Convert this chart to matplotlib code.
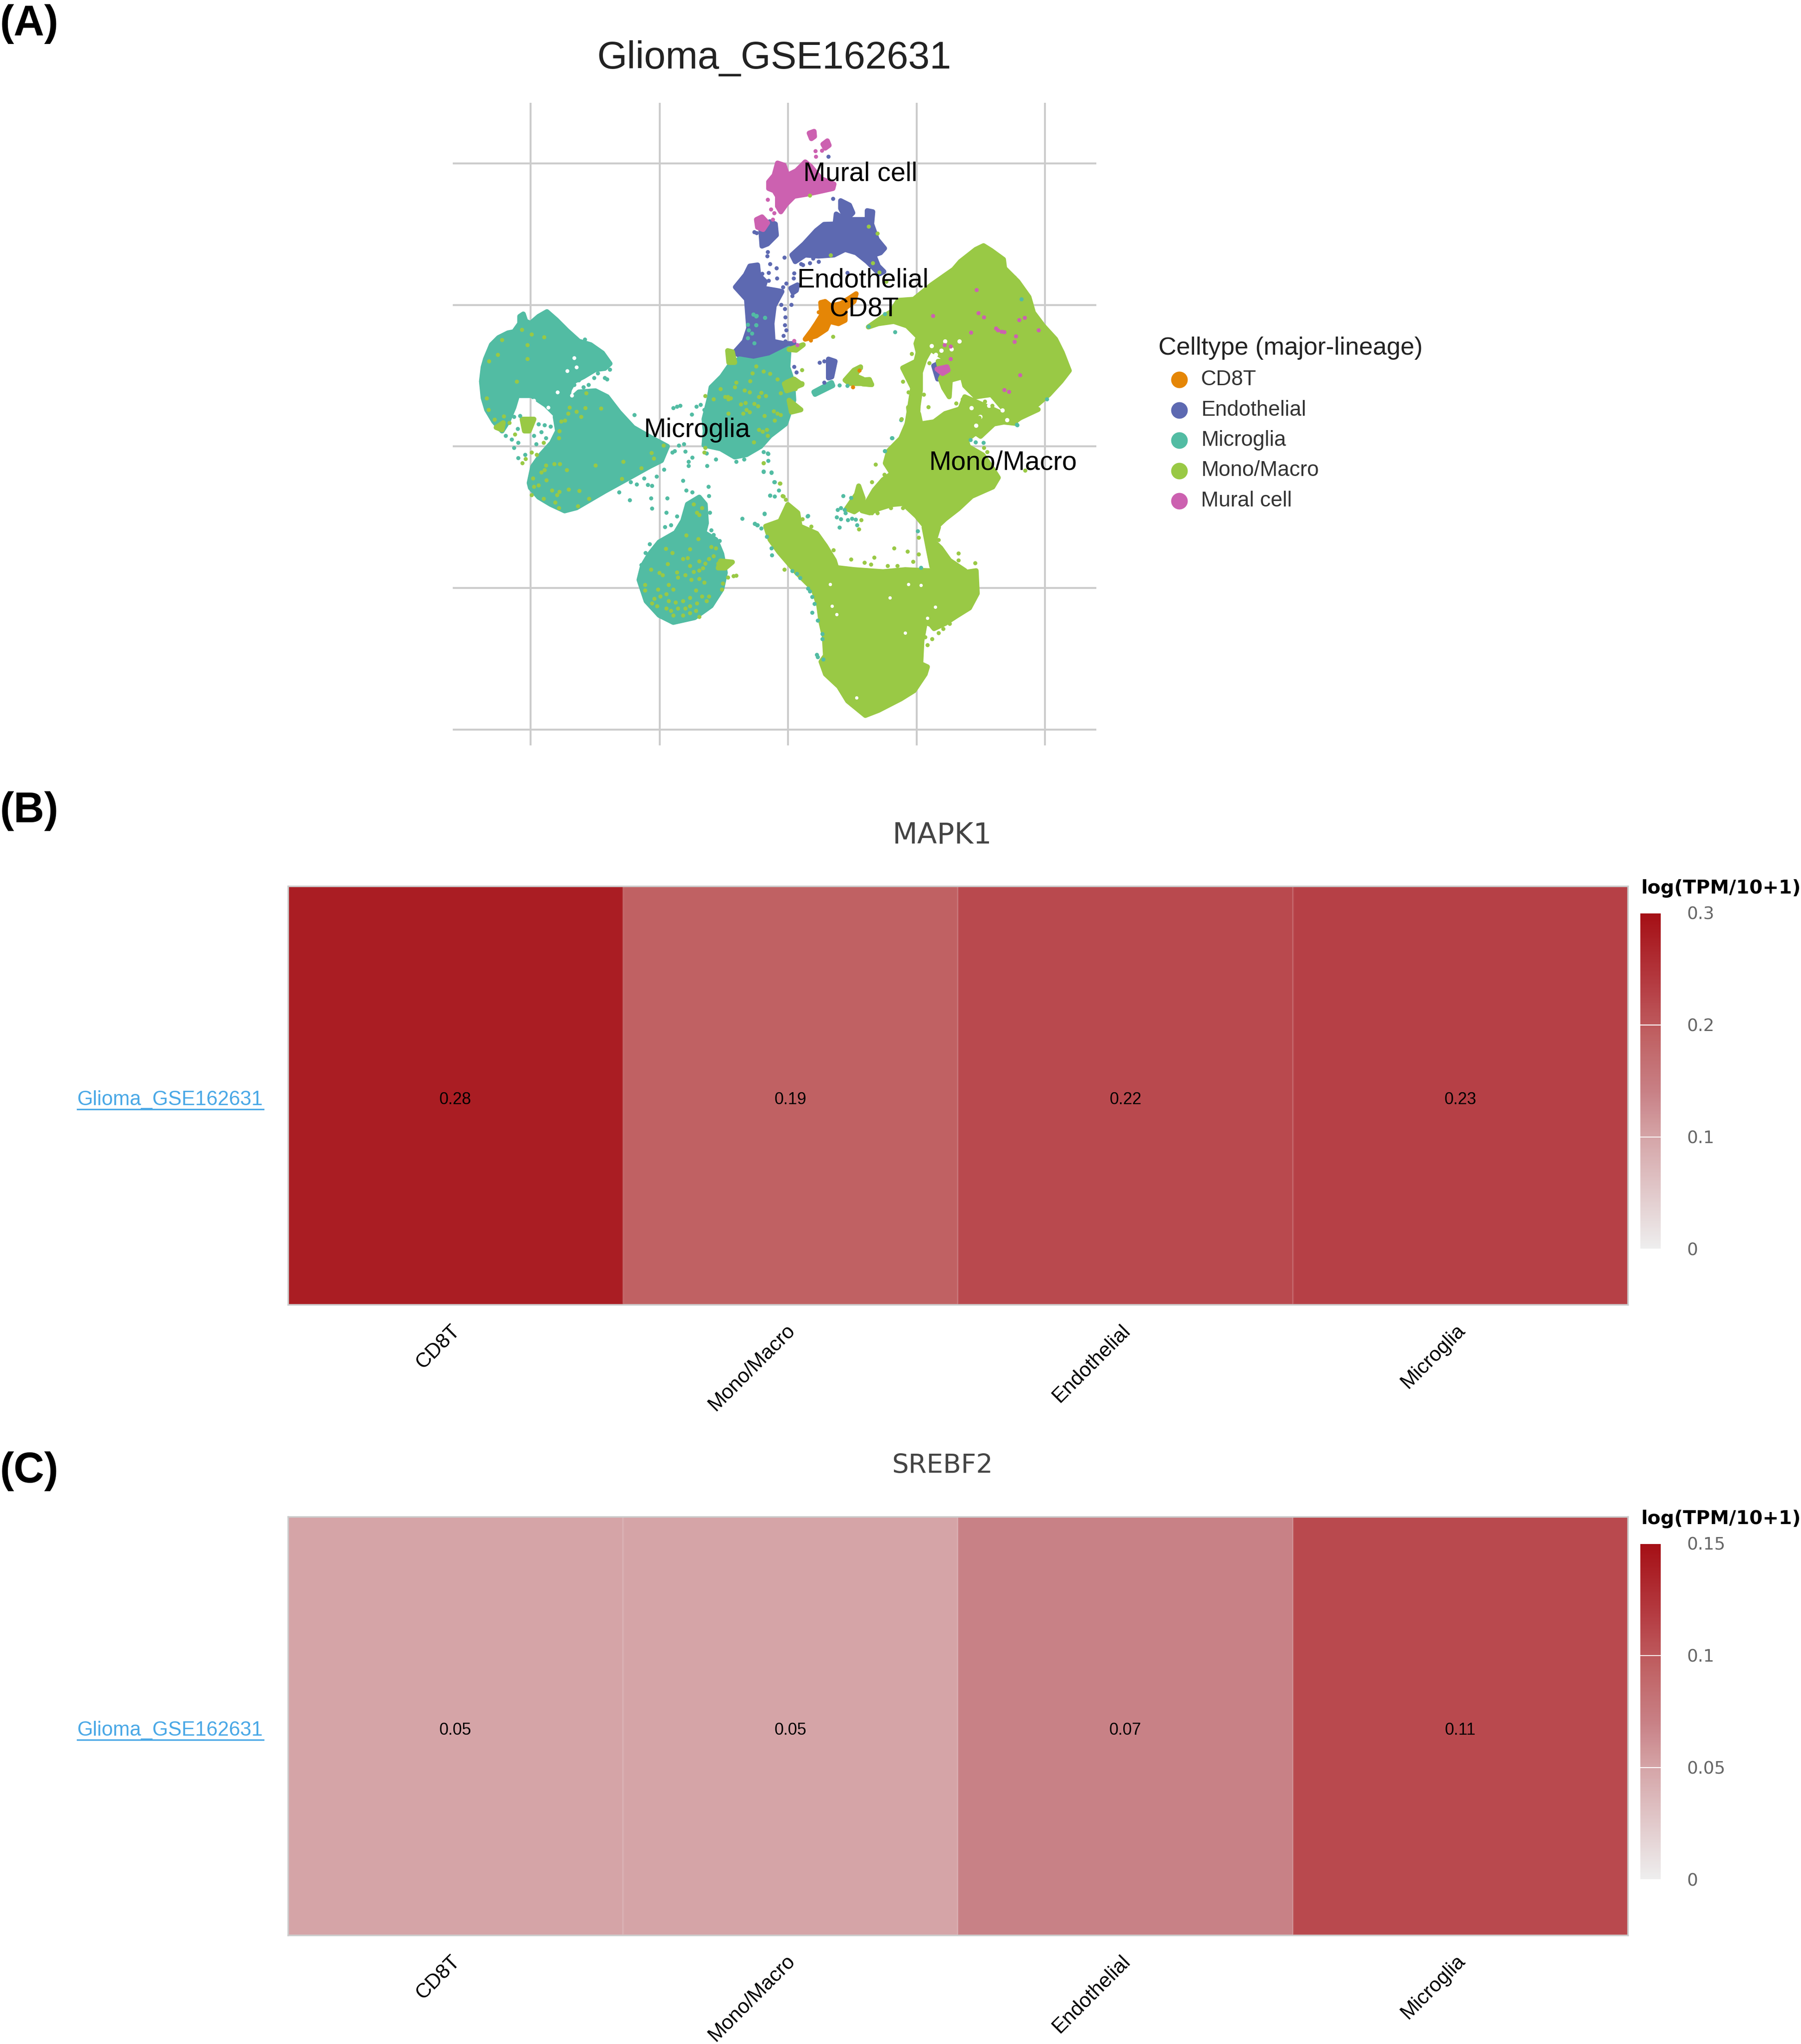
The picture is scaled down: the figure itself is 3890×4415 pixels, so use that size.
import matplotlib
matplotlib.use('Agg')
import matplotlib.pyplot as plt
from matplotlib.colors import LinearSegmentedColormap
from matplotlib.patches import Polygon

plt.rcParams['font.family'] = ['Liberation Sans', 'DejaVu Sans']

W, H = 3890, 4415

celltypes = ['CD8T', 'Endothelial', 'Microglia', 'Mono/Macro', 'Mural cell']
palette = ['#E58606', '#5D69B1', '#52BCA3', '#99C945', '#CC61B0']

grid_x = [212, 513, 813, 1113, 1413]
grid_y = [172, 514, 856, 1198, 1541]

# Everything below was read off three enlarged views of the embedding, so each
# list is in the units of its own view; view_* bring them onto the common axes.
view_left = (54, 0.5517, 493, 0.5714)
view_top = (703, 0.5174, 44.8, 0.5358)
view_bottom = (724.5, 0.5174, 761.6, 0.5)

# outlines of the dense clouds
microglia_shapes = [
    [(78, 360), (85, 300), (95, 265), (120, 205), (150, 175), (190, 155), (215, 150), (240, 115), (240, 85), (255, 75),
     (265, 105), (285, 115), (320, 85), (355, 65), (395, 100), (440, 145), (490, 190), (540, 205), (590, 240),
     (622, 285), (600, 305), (560, 310), (510, 340), (470, 360), (450, 395), (400, 410), (360, 430), (310, 415),
     (250, 385), (230, 420), (215, 470), (190, 530), (165, 570), (130, 530), (100, 480), (85, 430)],
    [(250, 385), (310, 415), (400, 410), (450, 395), (440, 450), (395, 505), (350, 460), (290, 420), (240, 420)],
    [(280, 790), (295, 720), (330, 670), (375, 620), (400, 570), (390, 510), (440, 450), (490, 405), (560, 400),
     (610, 425), (660, 490), (720, 555), (790, 595), (865, 635), (840, 695), (790, 720), (700, 770), (600, 825),
     (540, 860), (480, 895), (430, 908), (370, 880), (320, 850), (285, 810)],
    [(1020, 520), (1040, 440), (1050, 385), (1095, 340), (1130, 290), (1170, 265), (1230, 275), (1300, 260),
     (1380, 220), (1375, 300), (1395, 360), (1400, 440), (1385, 480), (1365, 540), (1300, 590), (1260, 635),
     (1200, 670), (1150, 680), (1090, 645), (1020, 630), (1025, 570)],
    [(745, 1200), (760, 1140), (790, 1090), (830, 1040), (900, 1000), (930, 950), (950, 880), (1000, 850), (1025, 880),
     (1030, 960), (1020, 1000), (1070, 1030), (1095, 1090), (1110, 1170), (1095, 1240), (1050, 1310), (980, 1360),
     (890, 1380), (830, 1350), (775, 1290)],
    [(1485, 405), (1560, 365), (1565, 378), (1490, 415)],
]
mono_clumps_left = [
    [(250, 520), (300, 520), (280, 570), (260, 570)],
    [(155, 545), (170, 535), (165, 565), (140, 555)],
    [(1120, 230), (1140, 235), (1150, 280), (1125, 280)],
    [(1360, 370), (1435, 370), (1400, 390), (1370, 400)],
    [(1380, 440), (1430, 480), (1390, 490)],
    [(1090, 1120), (1140, 1125), (1110, 1150), (1080, 1150)],
    [(1380, 225), (1440, 205), (1410, 228)],
]
mono_shapes_top = [
    [(710, 855), (780, 850), (860, 785), (960, 715), (990, 680), (1060, 625), (1095, 608), (1130, 630), (1185, 670),
     (1190, 710), (1250, 770), (1300, 840), (1320, 910), (1365, 970), (1420, 1030), (1450, 1090), (1482, 1172),
     (1445, 1220), (1390, 1280), (1320, 1340), (1240, 1400), (1190, 1350), (1130, 1280), (1060, 1290), (1010, 1240),
     (1000, 1200), (945, 1215), (940, 1290), (915, 1250), (900, 1210), (940, 1130), (970, 1080), (960, 1020),
     (900, 1000), (850, 1020), (800, 1020), (750, 970), (690, 950), (620, 960), (575, 975), (640, 930), (680, 905)],
    [(800, 1020), (960, 1020), (970, 1080), (940, 1130), (855, 1075), (800, 1090), (790, 1050)],
    [(1010, 1290), (1190, 1370), (1240, 1410), (1150, 1400), (1050, 1460), (1000, 1500), (980, 1370)],
    [(730, 1160), (790, 1130), (800, 1090), (855, 1075), (830, 1120), (810, 1180), (810, 1260), (800, 1330),
     (795, 1420), (745, 1440), (760, 1350), (775, 1250)],
    [(890, 1130), (915, 1130), (950, 1180), (900, 1170)],
    [(470, 1215), (510, 1170), (540, 1155), (515, 1195), (550, 1210), (590, 1235), (545, 1230), (490, 1230)],
    [(205, 1225), (240, 1210), (275, 1235), (235, 1250)],
    [(540, 1215), (580, 1212), (590, 1235), (550, 1232)],
]
mono_shapes_bottom = [
    [(505, 500), (560, 400), (600, 350), (640, 320), (610, 270), (625, 210), (680, 150), (700, 100), (720, 50), (715, 0),
     (760, 30), (770, 80), (830, 70), (880, 30), (940, 10), (985, 30), (965, 120), (985, 190), (1050, 230), (1090, 290),
     (1120, 340), (1095, 385), (1000, 430), (940, 490), (880, 540), (830, 590), (800, 590), (750, 525), (690, 465),
     (640, 470), (580, 490), (540, 510)],
    [(1000, 110), (1130, 30), (1250, 0), (1300, 10), (1200, 60), (1100, 80), (1040, 140)],
    [(435, 490), (480, 420), (490, 380), (510, 440), (505, 480), (470, 505)],
    [(785, 580), (850, 580), (830, 650), (860, 680), (900, 740), (970, 790), (880, 800), (820, 770), (805, 690)],
    [(70, 575), (135, 550), (170, 470), (215, 510), (225, 575), (300, 610), (340, 670), (380, 740), (390, 775),
     (470, 785), (600, 795), (700, 785), (800, 790), (900, 790), (960, 800), (1020, 790), (1025, 900), (990, 970),
     (930, 1010), (880, 1045), (830, 1070), (815, 1050), (790, 1040), (775, 1130), (770, 1240), (800, 1255), (790, 1290),
     (740, 1370), (680, 1410), (580, 1465), (520, 1490), (440, 1420), (400, 1350), (340, 1290), (320, 1230), (340, 1200),
     (335, 1110), (320, 1040), (310, 960), (285, 880), (210, 800), (130, 700), (90, 640)],
]
endothelial_shapes = [
    [(-25, 795), (20, 740), (40, 700), (75, 695), (80, 740), (110, 770), (100, 800), (160, 810), (185, 815), (150, 880),
     (140, 960), (145, 1040), (195, 1050), (240, 1050), (215, 1075), (150, 1095), (95, 1120), (40, 1130), (-30, 1090),
     (15, 1040), (35, 980), (25, 850)],
    [(230, 650), (285, 600), (340, 540), (375, 512), (425, 510), (430, 465), (470, 490), (515, 490), (570, 490),
     (570, 450), (595, 455), (590, 510), (615, 580), (648, 620), (630, 640), (600, 650), (620, 700), (645, 725),
     (625, 735), (570, 680), (520, 640), (470, 625), (420, 650), (350, 655), (290, 650), (245, 680)],
    [(450, 405), (490, 425), (505, 460), (475, 490), (450, 440)],
    [(90, 540), (130, 500), (155, 510), (160, 560), (120, 600), (95, 610)],
    [(395, 1120), (425, 1130), (410, 1200), (395, 1205)],
    [(870, 1150), (890, 1140), (900, 1200), (888, 1210)],
    [(225, 800), (255, 785), (250, 810), (235, 820)],
]
mural_shapes = [
    [(125, 320), (150, 290), (165, 235), (195, 245), (210, 290), (250, 270), (290, 230), (315, 250), (360, 305),
     (420, 330), (415, 350), (370, 360), (300, 375), (240, 385), (205, 420), (180, 455), (165, 430), (165, 385),
     (150, 360), (125, 350)],
    [(70, 490), (95, 478), (120, 505), (100, 535), (75, 525)],
    [(308, 100), (330, 92), (332, 115), (318, 125)],
    [(370, 150), (390, 135), (398, 155), (380, 168)],
    [(885, 1165), (930, 1155), (935, 1170), (910, 1185)],
]
cd8t_shapes = [
    [(360, 865), (380, 860), (405, 880), (450, 870), (490, 845), (520, 825), (510, 860), (470, 890), (470, 945),
     (440, 960), (400, 950), (385, 985), (340, 1015), (290, 1030), (320, 990), (340, 960), (365, 920)],
]

# loose dots outside the clouds, and the ones lying over other cell types
microglia_left_x = [725, 890, 905, 918, 988, 968, 1005, 1020, 850, 955, 970, 955, 1032, 930, 1038, 1040, 863, 795, 800,
                    705, 660, 710, 735, 765, 782, 800, 818, 945, 970, 1290, 1272, 1305, 1318, 1300, 1318, 1182, 1458,
                    1235, 1245, 1275, 885, 895, 940, 912, 935, 1030, 1070, 1155, 1190, 215, 232, 262, 232, 205, 310,
                    350, 330, 345, 300, 370, 320, 240, 215, 230, 180, 855, 860, 880, 905, 850, 790, 772, 780, 755, 1050,
                    1060, 1085, 1045, 600, 610, 620, 570, 530, 515, 555, 490, 470, 510, 1228, 1240, 1278, 1205, 1240]
microglia_left_y = [502, 473, 466, 462, 466, 500, 458, 480, 733, 700, 682, 717, 717, 780, 806, 845, 855, 855, 898, 863,
                    828, 785, 795, 770, 797, 802, 762, 820, 828, 665, 743, 745, 785, 842, 846, 940, 930, 963, 968, 920,
                    660, 655, 657, 630, 625, 665, 690, 700, 690, 640, 620, 670, 683, 605, 625, 600, 575, 545, 590, 550,
                    540, 505, 510, 560, 590, 975, 915, 968, 930, 1045, 1048, 1085, 1107, 1137, 990, 1010, 1035, 915,
                    345, 350, 310, 325, 375, 182, 345, 355, 375, 385, 76, 85, 90, 120, 122]
microglia_bottom_x = [680, 640, 607, 1053, 1205, 1018, 995, 755, 770, 60, 80, 80, 60, 95, 108, 90, 130, 65, 20, 32, 260,
                      420, 455, 410, 395, 390, 410, 440, 460, 475, 402, 482, 425, 430, 50, 75, 95, 97, 190, 210, 225,
                      270, 280, 290, 280, 305, 325, 325, 300, 305, 330, 260]
microglia_bottom_y = [60, 147, 210, 170, 85, 168, 158, 597, 775, 215, 225, 258, 310, 315, 360, 425, 400, 513, 563, 570,
                      525, 427, 437, 485, 495, 530, 540, 545, 538, 543, 580, 570, 495, 510, 585, 625, 680, 715, 790, 803,
                      825, 890, 915, 950, 992, 1030, 1095, 1120, 1197, 1208, 1218, 875]
mono_left_x = [248, 290, 342, 272, 147, 110, 165, 273, 227, 100, 108, 133, 172, 195, 220, 265, 250, 290, 312, 340, 405,
               408, 415, 430, 450, 445, 480, 518, 583, 500, 520, 410, 385, 438, 560, 677, 798, 808, 755, 672, 533, 485,
               492, 447, 408, 398, 375, 352, 320, 340, 390, 405, 300, 290, 295, 345, 330, 350, 848,
               1225, 1240, 1300, 1330, 1272, 1215, 1155, 1090, 1150, 1120, 1108, 1132, 1192, 1212, 1262, 1282, 1252,
               1176, 1195, 1232, 1248, 1345, 1315, 1330, 1345, 1275, 1185, 1200, 1212, 1122, 1122, 1318, 1268, 1285,
               1290, 1230, 1252, 1060, 1025, 1025, 1020, 1272, 1340, 1352, 1365,
               975, 1010, 1000, 990, 945, 995, 1050, 1070, 858, 885, 960, 1080, 1100, 1120, 1145, 1155, 1120, 1100,
               1095, 930, 950, 1000, 1060, 1040, 1025, 1015, 1000, 975, 960, 865, 795, 830, 845, 905, 910, 940, 965,
               1020, 1000, 770, 770, 825, 870, 890, 860, 835, 810, 800, 820, 870, 900, 930, 960, 985, 1010, 1040, 1030,
               990, 960, 940, 910, 880, 860, 890, 930, 960, 985, 1000]
mono_left_y = [142, 160, 172, 205, 247, 275, 185, 265, 360, 432, 480, 522, 507, 535, 583, 688, 705, 660, 670, 620, 600,
               570, 530, 525, 470, 495, 487, 472, 475, 510, 410, 710, 710, 735, 715, 700, 662, 685, 727, 772, 856, 888,
               823, 818, 826, 840, 820, 778, 800, 857, 872, 895, 805, 840, 770, 735, 745, 715, 630,
               325, 295, 327, 350, 318, 358, 365, 392, 385, 425, 425, 432, 397, 405, 407, 422, 426, 457, 450, 455, 465,
               410, 485, 495, 502, 505, 495, 480, 490, 495, 435, 525, 573, 565, 590, 617, 565, 435, 422, 640, 660, 705,
               792, 845, 860,
               880, 895, 925, 915, 1012, 1027, 1060, 1065, 1067, 1085, 1070, 1130, 1125, 1135, 1183, 1182, 1190, 1215,
               1240, 1110, 1108, 1120, 1100, 1110, 1130, 1150, 1160, 1165, 1140, 1133, 1157, 1170, 1180, 1168, 1190,
               1180, 1200, 1210, 1195, 1220, 1245, 1240, 1220, 1240, 1260, 1270, 1280, 1300, 1310, 1290, 1295, 1290,
               1275, 1245, 1270, 1270, 1290, 1300, 1310, 1320, 1320, 1330, 1320, 1350, 1350, 1340, 1330, 1355]
mono_bottom_x = [565, 548, 605, 650, 710, 560, 455, 375, 155, 235, 275, 940, 1015, 760, 760, 790, 820, 800, 850, 870, 880,
                 900, 735, 665, 620, 545, 515, 1055, 1070, 1240, 490, 500, 135, 60, 150, 940, 850, 635, 690, 550, 575,
                 990, 1020, 1050, 1010, 1080, 1100]
mono_bottom_y = [275, 360, 325, 682, 697, 725, 735, 690, 785, 540, 575, 705, 753, 630, 710, 1110, 1120, 1150, 1090, 1070,
                 1040, 1045, 745, 765, 767, 760, 750, 195, 215, 305, 590, 545, 367, 268, 430, 740, 640, 487, 485, 510,
                 510, 100, 60, 80, 130, 50, 70]
mono_top_x = [415, 405, 575, 615, 595, 625, 655, 1235, 770, 850, 845, 730, 755, 825, 725, 1000, 970, 985, 1050, 1100,
              875, 900, 990, 1010, 1075, 1125, 1160, 1095, 1135, 275, 245, 310, 540]
mono_top_y = [1018, 650, 522, 553, 685, 727, 770, 750, 1095, 1138, 1335, 1222, 1268, 1280, 1390, 1300, 1320, 1340, 1300,
              1310, 1075, 1100, 1365, 1360, 1385, 1360, 1385, 1440, 1330, 1168, 1255, 380, 1160]
endothelial_x = [415, 395, 120, 118, 130, 160, 195, 125, 95, 162, 125, 203, 190, 240, 238, 232, 228, 198, 200, 198, 205,
                 192, 200, 270, 310, 350, 325, 280, 180, 240, 250, 375, 355, 375, 70, 60, 480]
endothelial_y = [395, 205, 635, 655, 690, 708, 660, 730, 735, 755, 765, 778, 795, 733, 755, 835, 875, 892, 930, 965, 990,
                 1015, 1040, 690, 685, 680, 665, 695, 875, 1155, 1180, 1130, 1135, 1225, 550, 545, 730]
mural_x = [335, 338, 365, 120, 135, 150, 143, 240, 255, 1063, 867, 1072, 1097, 1255, 1280, 1150, 1160, 1175, 1188, 1038,
           1240, 1235, 1342, 918, 945, 945, 1260, 1188, 1210]
mural_y = [180, 205, 178, 400, 443, 460, 490, 1037, 1055, 808, 925, 912, 930, 943, 932, 980, 990, 995, 997, 1000, 1017,
           1042, 988, 1055, 1062, 1118, 1192, 1258, 1267]
microglia_top_x = [55, 70, 108, 68, 35, 50, 30, 60, 445, 480, 575, 695, 650, 1265, 1380, 1245, 725, 680, 650]
microglia_top_y = [918, 925, 932, 967, 988, 1003, 1025, 1047, 1238, 1240, 973, 997, 915, 850, 1300, 1415, 1390, 1475, 1535]
cd8t_x = [350, 315, 505, 535]
cd8t_y = [908, 1035, 1247, 1170]

# small gaps left open inside the dense clouds
gaps_left_x = [250, 300, 320, 460, 440, 400, 470, 480, 330, 360]
gaps_left_y = [450, 440, 465, 420, 315, 405, 260, 300, 500, 470]
gaps_top_x = [905, 985, 860, 880, 920, 950, 1040, 1080, 1120, 1200, 1180, 1060]
gaps_top_y = [1080, 1040, 1060, 1100, 1040, 1075, 1340, 1380, 1330, 1395, 1350, 1420]
gaps_bottom_x = [715, 630, 370, 360, 835, 800, 700, 480, 770, 390]
gaps_bottom_y = [855, 920, 960, 855, 965, 1020, 1090, 1405, 860, 1000]

cluster_labels = ['Mural cell', 'Endothelial', 'CD8T', 'Microglia', 'Mono/Macro']
label_x = [982, 988, 990, 600, 1315]
label_y = [197, 454, 525, 817, 895]

heat_columns = ['CD8T', 'Mono/Macro', 'Endothelial', 'Microglia']
mapk1_values = [0.28, 0.19, 0.22, 0.23]
srebf2_values = [0.05, 0.05, 0.07, 0.11]
mapk1_ticks = [0, 0.1, 0.2, 0.3]
mapk1_ticklabels = ['0', '0.1', '0.2', '0.3']
srebf2_ticks = [0, 0.05, 0.1, 0.15]
srebf2_ticklabels = ['0', '0.05', '0.1', '0.15']

heat_cmap = LinearSegmentedColormap.from_list('heat', [
    (0, '#eeeeee'), (0.33, '#d5a5a8'), (0.47, '#c88085'), (0.63, '#c06264'), (0.77, '#b64046'), (1, '#a50f15')])


def px_axes(fig, left, top, right, bottom):
    return fig.add_axes([left / W, 1 - bottom / H, (right - left) / W, (bottom - top) / H])


def to_common(view, xs, ys):
    ox, sx, oy, sy = view
    return [ox + sx * x for x in xs], [oy + sy * y for y in ys]


def add_shapes(ax, outlines, view, color):
    for outline in outlines:
        xs, ys = to_common(view, [p[0] for p in outline], [p[1] for p in outline])
        ax.add_patch(Polygon(list(zip(xs, ys)), closed=True, facecolor=color, edgecolor=color, linewidth=2.6,
                             joinstyle='round'))


def add_dots(ax, view, xs, ys, color, size=4.5):
    xs, ys = to_common(view, xs, ys)
    ax.scatter(xs, ys, s=size, color=color, linewidths=0, zorder=3)


def draw_umap(fig):
    ax = px_axes(fig, 978, 222, 2368, 1610)
    ax.set_xlim(30, 1533)
    ax.set_ylim(1579, 25)
    ax.set_xticks(grid_x)
    ax.set_yticks(grid_y)
    ax.grid(True, color='#cccccc', linewidth=1.0)
    ax.set_axisbelow(True)
    ax.tick_params(length=0, labelbottom=False, labelleft=False)
    for s in ax.spines.values():
        s.set_visible(False)

    add_shapes(ax, endothelial_shapes, view_top, palette[1])
    add_shapes(ax, microglia_shapes, view_left, palette[2])
    add_shapes(ax, mono_shapes_top, view_top, palette[3])
    add_shapes(ax, mono_shapes_bottom, view_bottom, palette[3])
    add_shapes(ax, mono_clumps_left, view_left, palette[3])
    add_shapes(ax, mural_shapes, view_top, palette[4])
    add_shapes(ax, cd8t_shapes, view_top, palette[0])

    add_dots(ax, view_left, gaps_left_x, gaps_left_y, 'white', 4)
    add_dots(ax, view_top, gaps_top_x, gaps_top_y, 'white', 5)
    add_dots(ax, view_bottom, gaps_bottom_x, gaps_bottom_y, 'white', 3)

    add_dots(ax, view_top, endothelial_x, endothelial_y, palette[1])
    add_dots(ax, view_left, microglia_left_x, microglia_left_y, palette[2])
    add_dots(ax, view_bottom, microglia_bottom_x, microglia_bottom_y, palette[2])
    add_dots(ax, view_top, microglia_top_x, microglia_top_y, palette[2])
    add_dots(ax, view_left, mono_left_x, mono_left_y, palette[3])
    add_dots(ax, view_bottom, mono_bottom_x, mono_bottom_y, palette[3])
    add_dots(ax, view_top, mono_top_x, mono_top_y, palette[3])
    add_dots(ax, view_top, mural_x, mural_y, palette[4])
    add_dots(ax, view_top, cd8t_x, cd8t_y, palette[0])

    for name, x, y in zip(cluster_labels, label_x, label_y):
        ax.text(x, y, name, fontsize=13.8, color='black', ha='center', va='center', zorder=5)


def draw_heat(fig, top, gene, gene_size, values, ticks, ticklabels):
    bottom = top + 904
    ax = px_axes(fig, 622, top, 3516, bottom)
    mesh = ax.pcolormesh([values], cmap=heat_cmap, vmin=0, vmax=ticks[-1], edgecolors='#ffffff18', linewidth=0.5)
    for j, v in enumerate(values):
        ax.text(j + 0.5, 0.49, f'{v:.2f}', fontsize=8.6, color='black', ha='center', va='center')
    ax.set_xticks([j + 0.485 for j in range(len(heat_columns))])
    ax.set_xticklabels(heat_columns, rotation=45, ha='right', va='top', rotation_mode='anchor', fontsize=10.6)
    ax.tick_params(axis='x', length=0, pad=8.5)
    ax.set_yticks([0.494])
    ax.set_yticklabels(['Glioma_GSE162631'], fontsize=10.5, color='#4aa8e6')
    ax.tick_params(axis='y', length=0, pad=13)
    for s in ax.spines.values():
        s.set_color('#cccccc')
        s.set_linewidth(0.8)

    cax = px_axes(fig, 3543, top + 58, 3587, top + 784)
    cb = fig.colorbar(mesh, cax=cax, ticks=ticks)
    cb.set_ticklabels(ticklabels)
    cb.outline.set_visible(False)
    cb.ax.tick_params(direction='in', length=10.6, width=0.5, color='white', labelsize=9,
                      labelcolor='#666666', pad=13.5)
    for lab in cb.ax.get_yticklabels():
        lab.set_family('DejaVu Sans')

    fig.text(3545 / W, 1 - (top + 5) / H, 'log(TPM/10+1)', family='DejaVu Sans', fontweight='bold', fontsize=9.9,
             color='black', ha='left', va='center')
    fig.text(2035 / W, 1 - (top - 110) / H, gene, family='DejaVu Sans', fontsize=gene_size, color='#444444',
             ha='center', va='center')
    y_line = top + 482
    fig.add_artist(plt.Line2D([167 / W, 569 / W], [1 - y_line / H] * 2, color='#4aa8e6', linewidth=0.8))


fig = plt.figure(figsize=(W / 300, H / 300), dpi=300, facecolor='white')

draw_umap(fig)

fig.text(1672 / W, 1 - 126 / H, 'Glioma_GSE162631', fontsize=20, color='#222222', ha='center', va='center')

# legend, placed by hand
fig.text(2502 / W, 1 - 752 / H, 'Celltype (major-lineage)', fontsize=12.9, color='#222222', ha='left', va='center')
for k, (name, color) in enumerate(zip(celltypes, palette)):
    y = 820 + k * 65.5
    fig.add_artist(plt.Line2D([2547 / W], [1 - y / H], marker='o', markersize=8.6, color=color, linewidth=0,
                              markeredgewidth=0))
    fig.text(2594 / W, 1 - y / H, name, fontsize=11, color='#333333', ha='left', va='center')

draw_heat(fig, 1914, 'MAPK1', 15, mapk1_values, mapk1_ticks, mapk1_ticklabels)
draw_heat(fig, 3276, 'SREBF2', 13.6, srebf2_values, srebf2_ticks, srebf2_ticklabels)

for letter, y in zip(['(A)', '(B)', '(C)'], [52, 1752, 3178]):
    fig.text(0 / W, 1 - y / H, letter, fontsize=22, fontweight='bold', color='black', ha='left', va='center')

fig.savefig('out.png', dpi=300)
